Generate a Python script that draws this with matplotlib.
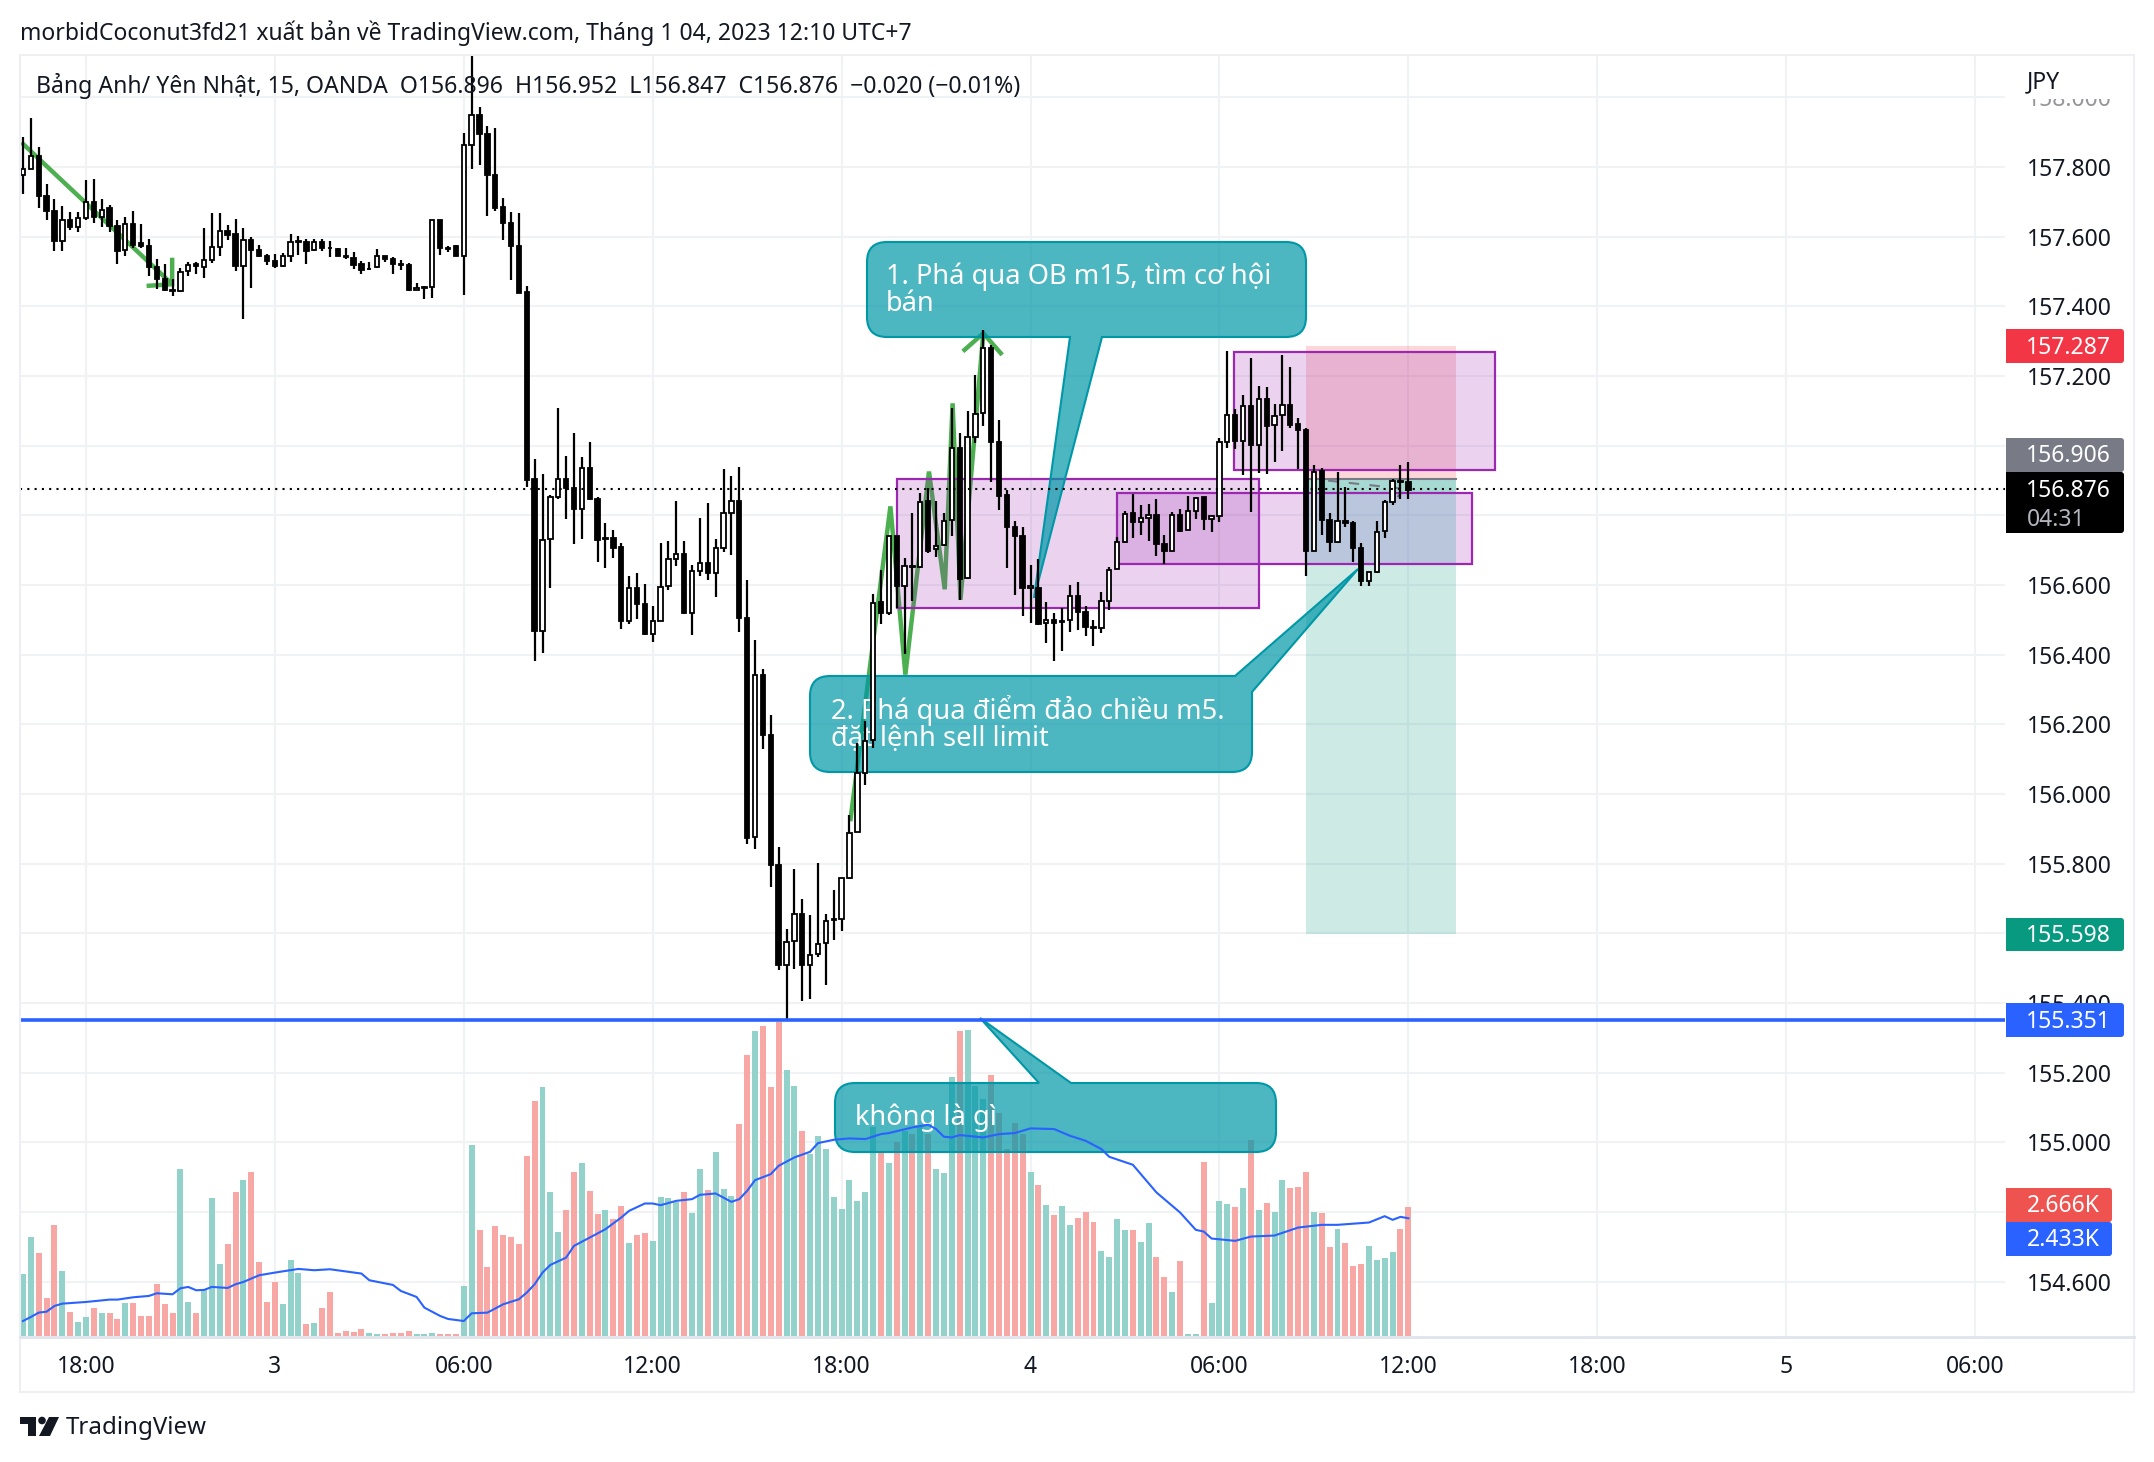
import numpy as np
import matplotlib
matplotlib.use('Agg')
import matplotlib.pyplot as plt
from matplotlib.patches import Rectangle, PathPatch, FancyBboxPatch, Polygon, Circle
from matplotlib.path import Path
from matplotlib.transforms import Affine2D

plt.rcParams['font.family'] = ['Noto Sans', 'DejaVu Sans']

# 15 minute bars, 16:00 Jan 2 to 12:00 Jan 4
high = [157.886,157.942,157.857,157.752,157.708,157.689,157.672,157.672,157.762,157.765,
        157.708,157.692,157.649,157.657,157.674,157.637,157.593,157.537,157.522,157.479,
        157.510,157.527,157.528,157.624,157.667,157.667,157.634,157.651,157.625,157.600,
        157.577,157.552,157.552,157.554,157.607,157.602,157.595,157.595,157.593,157.587,
        157.569,157.569,157.555,157.531,157.528,157.566,157.546,157.542,157.534,157.525,
        157.466,157.458,157.649,157.649,157.574,157.576,157.898,158.140,157.974,157.919,
        157.913,157.712,157.672,157.669,157.459,156.963,156.919,156.860,157.109,156.971,
        157.036,156.968,157.011,156.853,156.779,156.758,156.722,156.626,156.634,156.603,
        156.541,156.720,156.726,156.841,156.726,156.658,156.792,156.836,156.733,156.933,
        156.913,156.940,156.615,156.442,156.359,156.226,155.849,155.612,155.785,155.700,
        155.654,155.801,155.657,155.724,155.760,155.939,156.146,156.211,156.575,156.644,
        156.740,156.742,156.678,156.806,156.864,156.878,156.841,156.806,157.109,157.036,
        157.100,157.203,157.331,157.290,157.073,156.872,156.784,156.768,156.657,156.675,
        156.551,156.520,156.534,156.600,156.608,156.539,156.499,156.579,156.652,156.738,
        156.812,156.862,156.831,156.833,156.847,156.744,156.810,156.818,156.856,156.853,
        156.853,156.802,157.022,157.271,157.105,157.146,157.252,157.172,157.168,157.120,
        157.261,157.226,157.079,157.051,156.945,156.936,156.807,156.925,156.881,156.783,
        156.721,156.639,156.785,156.843,156.904,156.945,156.952]
body_hi = [157.795,157.833,157.833,157.718,157.675,157.649,157.649,157.655,157.701,157.701,
           157.678,157.682,157.630,157.637,157.637,157.583,157.574,157.514,157.479,157.448,
           157.499,157.519,157.521,157.533,157.571,157.616,157.616,157.607,157.590,157.591,
           157.563,157.546,157.531,157.546,157.584,157.587,157.586,157.586,157.586,157.569,
           157.566,157.546,157.540,157.522,157.509,157.544,157.544,157.536,157.521,157.520,
           157.452,157.455,157.649,157.649,157.569,157.575,157.865,157.951,157.951,157.896,
           157.778,157.687,157.640,157.574,157.442,156.905,156.729,156.854,156.905,156.905,
           156.879,156.937,156.937,156.846,156.736,156.736,156.709,156.592,156.592,156.545,
           156.497,156.594,156.676,156.689,156.689,156.640,156.662,156.663,156.706,156.808,
           156.842,156.842,156.505,156.343,156.343,156.170,155.796,155.576,155.656,155.657,
           155.539,155.570,155.636,155.640,155.759,155.889,156.060,156.153,156.550,156.552,
           156.740,156.742,156.654,156.655,156.838,156.841,156.711,156.783,156.993,156.993,
           157.025,157.091,157.280,157.280,157.010,156.858,156.768,156.740,156.596,156.593,
           156.500,156.500,156.496,156.569,156.570,156.522,156.481,156.553,156.644,156.725,
           156.805,156.806,156.794,156.800,156.801,156.717,156.800,156.801,156.814,156.851,
           156.853,156.797,157.012,157.087,157.088,157.113,157.113,157.134,157.134,157.086,
           157.116,157.117,157.062,157.046,156.925,156.928,156.787,156.784,156.784,156.778,
           156.706,156.639,156.753,156.840,156.898,156.898,156.896]
body_lo = [157.777,157.795,157.718,157.675,157.588,157.588,157.628,157.628,157.655,157.656,
           157.658,157.630,157.560,157.561,157.577,157.573,157.514,157.479,157.447,157.445,
           157.445,157.502,157.516,157.514,157.534,157.571,157.604,157.516,157.516,157.562,
           157.546,157.530,157.516,157.516,157.546,157.584,157.560,157.561,157.568,157.567,
           157.546,157.542,157.520,157.505,157.507,157.513,157.537,157.522,157.519,157.446,
           157.447,157.453,157.455,157.567,157.566,157.546,157.546,157.865,157.896,157.778,
           157.684,157.640,157.574,157.440,156.902,156.469,156.469,156.731,156.853,156.878,
           156.819,156.819,156.846,156.729,156.732,156.706,156.497,156.497,156.545,156.460,
           156.461,156.498,156.596,156.676,156.519,156.520,156.640,156.634,156.636,156.706,
           156.808,156.505,155.874,155.877,156.170,155.796,155.510,155.510,155.579,155.510,
           155.510,155.540,155.572,155.637,155.642,155.760,155.892,156.060,156.156,156.520,
           156.520,156.596,156.596,156.651,156.651,156.699,156.703,156.714,156.786,156.618,
           156.619,157.025,157.093,157.010,156.857,156.768,156.740,156.593,156.593,156.489,
           156.491,156.491,156.493,156.499,156.522,156.481,156.476,156.476,156.553,156.646,
           156.725,156.780,156.781,156.794,156.717,156.699,156.699,156.755,156.757,156.814,
           156.791,156.791,156.797,157.012,157.013,157.013,157.001,157.002,157.058,157.059,
           157.088,157.060,157.044,156.699,156.699,156.786,156.725,156.725,156.778,156.706,
           156.613,156.613,156.639,156.755,156.840,156.895,156.874]
low = [157.722,157.795,157.683,157.649,157.560,157.560,157.620,157.614,157.649,157.640,
       157.628,157.614,157.522,157.546,157.567,157.567,157.487,157.449,157.445,157.429,
       157.441,157.487,157.493,157.481,157.525,157.544,157.590,157.502,157.364,157.453,
       157.543,157.519,157.510,157.513,157.528,157.549,157.522,157.560,157.560,157.542,
       157.544,157.537,157.508,157.492,157.505,157.510,157.528,157.493,157.505,157.445,
       157.446,157.421,157.424,157.548,157.557,157.544,157.434,157.795,157.806,157.660,
       157.675,157.590,157.475,157.438,156.882,156.383,156.406,156.592,156.847,156.791,
       156.717,156.733,156.843,156.665,156.648,156.678,156.475,156.489,156.502,156.456,
       156.438,156.497,156.586,156.654,156.516,156.456,156.626,156.616,156.566,156.696,
       156.685,156.465,155.858,155.843,156.128,155.734,155.496,155.355,155.499,155.407,
       155.411,155.531,155.451,155.581,155.606,155.757,155.891,156.025,156.131,156.489,
       156.513,156.534,156.401,156.555,156.648,156.692,156.681,156.713,156.742,156.557,
       156.618,157.008,157.056,156.895,156.816,156.648,156.572,156.510,156.491,156.486,
       156.435,156.381,156.412,156.464,156.472,156.453,156.424,156.462,156.529,156.646,
       156.722,156.734,156.744,156.728,156.684,156.661,156.699,156.752,156.757,156.790,
       156.757,156.753,156.780,156.994,156.991,156.915,156.811,156.921,156.920,156.952,
       156.984,157.052,156.933,156.627,156.697,156.744,156.694,156.721,156.768,156.667,
       156.596,156.598,156.636,156.734,156.829,156.847,156.847]
rising = ('UUDDDUDUUDUDDUDDDDDDUUDUUUDDUDDDDUUUDUDDDDDDUUDDDDUUUDDDUUDDDDDDD'
          'DUUUDDUDDUDDUDDUUUUDUUDUUUDDUDDDUUDUUUUUUUUUDUDUDUDUUUDUUUDDDDDUDUDUUDDDUUUUDUUDDUDUUD'
          'UUUDUDUDUUDDDUDDUDDDUUUUDD')
volume = [1.283,2.048,1.710,0.793,2.297,1.345,0.497,0.290,0.393,0.579,
          0.476,0.476,0.352,0.683,0.683,0.414,0.414,1.076,0.662,0.476,
          3.455,0.703,0.476,0.972,2.855,1.490,1.903,2.979,3.228,3.393,
          1.531,0.703,1.117,0.662,1.572,1.303,0.248,0.269,0.579,0.910,
          0.062,0.103,0.083,0.145,0.062,0.041,0.041,0.062,0.062,0.103,
          0.041,0.041,0.062,0.041,0.041,0.041,1.034,3.952,2.193,1.428,
          2.276,2.090,2.048,1.903,3.724,4.862,5.152,2.979,2.152,2.607,
          3.393,3.579,3.000,2.524,2.607,2.421,2.690,1.924,2.090,2.131,
          1.966,2.876,2.855,2.772,2.979,2.545,3.455,3.021,3.807,3.041,
          2.897,4.386,5.814,6.310,6.414,5.152,6.483,5.503,5.172,4.241,
          3.766,4.138,3.869,2.876,2.628,3.228,2.793,2.979,4.324,3.828,
          3.579,4.014,4.241,4.179,4.310,4.179,3.455,3.372,5.359,6.310,
          6.331,5.172,4.903,5.400,4.614,3.862,4.407,4.179,3.393,3.124,
          2.710,2.503,2.690,2.297,2.441,2.566,2.359,1.759,1.634,2.421,
          2.193,2.193,1.945,2.338,1.634,1.221,0.910,1.552,0.041,0.041,
          3.600,0.683,2.793,2.731,2.669,3.062,4.055,2.607,2.752,2.566,
          3.228,3.062,3.083,3.393,2.566,2.545,1.841,2.214,1.924,1.448,
          1.490,1.862,1.572,1.614,1.738,2.214,2.666]
ma_bar = [0,1,2,3,4,5,8,11,12,14,16,17,19,20,21,22,23,24,26,27,28,30,32,35,37,39,43,44,47,48,
          50,51,53,54,56,57,59,61,63,64,65,66,67,69,70,72,74,76,77,79,80,81,83,85,86,88,90,91,
          92,93,95,96,98,100,101,103,105,107,109,110,113,115,116,117,118,119,122,124,126,128,
          131,133,135,137,138,141,144,147,149,150,151,154,156,159,162,165,167,171,173,174,175,176]
ma_val = [.310,.393,.483,.503,.621,.669,.703,.752,.752,.800,.828,.883,.862,.986,1.014,.945,.952,
          1.014,.993,1.069,1.117,1.255,1.310,1.386,1.359,1.379,1.290,1.152,1.055,.931,.807,.586,
          .414,.352,.310,.469,.483,.655,.759,.897,1.069,1.310,1.469,1.620,1.862,2.034,2.207,
          2.448,2.586,2.738,2.738,2.703,2.793,2.828,2.917,2.945,2.772,2.828,3.000,3.220,3.345,
          3.517,3.690,3.807,3.986,4.055,4.083,4.069,4.172,4.193,4.310,4.366,4.276,4.117,4.103,
          4.152,4.103,4.172,4.193,4.290,4.276,4.138,4.034,3.862,3.703,3.538,2.966,2.552,2.193,
          2.159,2.014,1.966,2.055,2.076,2.241,2.297,2.297,2.345,2.476,2.400,2.462,2.433]

price_ticks = [154.6,154.8,155.0,155.2,155.4,155.6,155.8,156.0,156.2,156.4,156.6,156.8,157.0,157.2,157.4,157.6,157.8,158.0]
time_bars = [8,32,56,80,104,128,152,176,200,224,248]
time_labels = ['18:00','3','06:00','12:00','18:00','4','06:00','12:00','18:00','5','06:00']

last_close = 156.876
h_line = 155.351
entry, stop, target = 156.906, 157.287, 155.598
pos_bars = [163, 182]
ob_boxes = [(111.05,157.05,156.535,156.906), (139,184.1,156.661,156.863), (153.9,187,156.931,157.268)]
arrow1_bar = [-0.2,18.95]
arrow1_val = [157.871,157.464]
arrow1_head_bar = [15.7,18.95,18.95]
arrow1_head_val = [157.459,157.464,157.540]
zig_bar = [105.1,110.2,112.1,115.1,117.1,118.1,119.1,122.0]
zig_val = [155.922,156.826,156.343,156.926,156.588,157.122,156.558,157.323]
zig_head_bar = [119.4,122.0,124.4]
zig_head_val = [157.271,157.323,157.261]
trade_bar = [165.8,175.6,174.6]
trade_val = [156.900,156.876,156.853]

W, H = 2154, 1462
L, R, T, B = 20, 2005, 55, 1336
fig = plt.figure(figsize=(W/100, H/100), dpi=100, facecolor='white')
pos = [L/W, 1-B/H, (R-L)/W, (B-T)/H]
ax = fig.add_axes(pos)
vax = fig.add_axes(pos)
vax.set_axis_off()
ax.set_zorder(2)
vax.set_zorder(1)
ax.set_xlim(-0.38, 251.8)
ax.set_ylim(154.444, 158.122)
vax.set_xlim(-0.38, 251.8)
vax.set_ylim(0, 26.47)
ax.set_autoscale_on(False)

ax.set_yticks(price_ticks)
ax.set_yticklabels(['%.3f' % p for p in price_ticks])
ax.yaxis.tick_right()
ax.set_xticks(time_bars)
ax.set_xticklabels(time_labels)
ax.tick_params(axis='y', length=0, pad=15.5, labelsize=16.5, labelcolor='#131722')
ax.tick_params(axis='x', length=0, pad=14, labelsize=16.5, labelcolor='#131722')
for lab in ax.get_xticklabels():
    if lab.get_text() in ('3', '4', '5'):
        lab.set_fontweight('bold')
ax.grid(color='#f1f2f4', linewidth=1.5)
ax.set_axisbelow(True)
for s in ax.spines.values():
    s.set_visible(False)

bars = np.arange(len(high))
up = np.array([c == 'U' for c in rising])

# volume pane
ax.bar(bars, volume, width=0.76, color=['#92d2ca' if u else '#f7a8a5' for u in up],
       transform=vax.transData, zorder=1)

# position tool
span = pos_bars[1]-pos_bars[0]
teal = (8/255, 153/255, 129/255, .2)
ax.add_patch(Rectangle((pos_bars[0], entry), span, stop-entry, fc=(242/255,54/255,69/255,.2), ec='none', zorder=2))
ax.add_patch(Rectangle((pos_bars[0], target), span, entry-target, fc=teal, ec='none', zorder=2))
ax.add_patch(Rectangle((pos_bars[0], ob_boxes[1][3]), span, entry-ob_boxes[1][3], fc=teal, ec='none', zorder=2))
ax.add_patch(Rectangle((pos_bars[0], ob_boxes[1][2]), span, ob_boxes[1][3]-ob_boxes[1][2], fc=(150/255,1,240/255,.2), ec='none', zorder=2))
ax.plot(pos_bars, [entry, entry], color='#787b86', lw=1.5, zorder=2.1)
ax.plot(trade_bar, trade_val, color='#787b86', lw=1.5, ls=(0, (5, 5)), zorder=2.1)

# green arrows
green = '#4caf50'
for bx, by in [(arrow1_bar, arrow1_val), (arrow1_head_bar, arrow1_head_val), (zig_bar, zig_val), (zig_head_bar, zig_head_val)]:
    ax.plot(bx, by, color=green, lw=3.2, solid_joinstyle='miter', solid_capstyle='butt', zorder=2.5)

# order blocks
for x0, x1, y0, y1 in ob_boxes:
    ax.add_patch(Rectangle((x0, y0), x1-x0, y1-y0, fc=(156/255,39/255,176/255,.2), ec='#9c27b0', lw=1.6, zorder=3))

to_px = Affine2D().scale(1, -1).translate(0, H)

def rounded_poly(points):
    verts, codes = [], []
    n = len(points)
    for k, (x, y, r) in enumerate(points):
        if r == 0:
            verts.append((x, y))
            codes.append(Path.LINETO)
            continue
        px0, py0, _ = points[k-1]
        px1, py1, _ = points[(k+1) % n]
        a = np.array([px0-x, py0-y], float)
        b = np.array([px1-x, py1-y], float)
        a = a/np.hypot(*a)*r
        b = b/np.hypot(*b)*r
        verts += [(x+a[0], y+a[1]), (x, y), (x+b[0], y+b[1])]
        codes += [Path.LINETO, Path.CURVE3, Path.CURVE3]
    codes[0] = Path.MOVETO
    verts.append(verts[0])
    codes.append(Path.CLOSEPOLY)
    return Path(verts, codes)

def callout(points):
    ax.add_patch(PathPatch(rounded_poly(points), fc=(0, 151/255, 167/255, .7), ec='#0097a7', lw=1.5,
                           transform=to_px, clip_on=False, zorder=3.5))

r = 20
callout([(867,242,r),(1306,242,r),(1306,337,r),(1102,337,0),(1034,598,0),(1070,337,0),(867,337,r)])
callout([(810,676,r),(1235,676,0),(1358,569,0),(1252,692,0),(1252,772,r),(810,772,r)])
callout([(835,1083,r),(1039,1083,0),(980,1018,0),(1071,1083,0),(1276,1083,r),(1276,1152,r),(835,1152,r)])

note_size = 19.6
ax.text(886, 277, '1. Phá qua OB m15, tìm cơ hội', color='white', fontsize=note_size, va='center', transform=to_px, zorder=3.6)
ax.text(886, 304, 'bán', color='white', fontsize=note_size, va='center', transform=to_px, zorder=3.6)
ax.text(831, 711, '2. Phá qua điểm đảo chiều m5.', color='white', fontsize=note_size, va='center', transform=to_px, zorder=3.6)
ax.text(831, 739, 'đặt lệnh sell limit', color='white', fontsize=note_size, va='center', transform=to_px, zorder=3.6)
ax.text(855, 1118, 'không là gì', color='white', fontsize=note_size, va='center', transform=to_px, zorder=3.6)

# volume average
ax.plot(ma_bar, ma_val, color='#2962ff', lw=1.5, transform=vax.transData, zorder=4)

# candles
ax.vlines(bars, low, high, color='black', lw=1.6, zorder=5)
ax.bar(bars, np.array(body_hi)-np.array(body_lo), bottom=body_lo, width=0.55,
       color=['white' if u else 'black' for u in up], edgecolor='black', linewidth=1.3, zorder=5.2)

ax.axhline(last_close, color='black', lw=1.5, ls=(0, (1, 2.5)), zorder=6)
ax.axhline(h_line, color='#2962ff', lw=2.6, zorder=6.5)

# overlay in pixels for frame, labels and price tags
ov = fig.add_axes([0, 0, 1, 1], zorder=10)
ov.set_xlim(0, W)
ov.set_ylim(H, 0)
ov.axis('off')
ov.add_patch(Rectangle((L, T), 2134-L, 1392-T, fc='none', ec='#eeeef4', lw=1.5))
ov.plot([L, 2134], [1337, 1337], color='#e0e3eb', lw=2)
# 158.000 sits half under the currency label and fades out
ov.add_patch(Rectangle((2012, 58), 118, 41, fc='white', ec='none'))
ov.add_patch(Rectangle((2012, 99), 118, 10, fc=(1, 1, 1, .55), ec='none'))

def tag(y0, y1, color, text, width=118, cx=2068):
    ov.add_patch(FancyBboxPatch((2012, y0+3), width-9, y1-y0-6, boxstyle='round,pad=3', fc=color, ec='none', zorder=3))
    ov.add_patch(Rectangle((2006, y0), 20, y1-y0, fc=color, ec='none', zorder=3))
    ov.text(cx, (y0+y1)/2+1.5, text, color='white', fontsize=16.5, ha='center', va='center', zorder=4)

tag(329, 363, '#f23645', '157.287')
tag(438, 472, '#787b86', '156.906')
tag(472, 533, 'black', '')
ov.text(2068, 491, '156.876', color='white', fontsize=16.5, ha='center', va='center', zorder=4)
ov.text(2027, 520, '04:31', color='#b2b5be', fontsize=16.5, ha='left', va='center', zorder=4)
tag(918, 951, '#089981', '155.598')
tag(1003, 1037, '#2962ff', '155.351')
tag(1188, 1222, '#ef5350', '2.666K', width=106, cx=2063)
tag(1222, 1256, '#2962ff', '2.433K', width=106, cx=2063)

ov.text(2027, 82, 'JPY', color='#131722', fontsize=16.5, va='center')
ov.text(20, 33, 'morbidCoconut3fd21 xuất bản về TradingView.com, Tháng 1 04, 2023 12:10 UTC+7',
        color='#131722', fontsize=16.5, va='center')
ov.text(36, 86, 'Bảng Anh/ Yên Nhật, 15, OANDA  O156.896  H156.952  L156.847  C156.876  −0.020 (−0.01%)',
        color='#131722', fontsize=16.6, va='center')
ov.text(66, 1428, 'TradingView', color='#131722', fontsize=17.3, va='center')

# logo
logo = '#131722'
ov.add_patch(Polygon([(20,1417),(36,1417),(36,1436),(28,1436),(28,1424),(20,1424)], fc=logo, ec='none'))
ov.add_patch(Circle((42, 1420.5), 3.8, fc=logo, ec='none'))
ov.add_patch(Polygon([(59,1417),(49,1417),(39,1436),(50,1436)], fc=logo, ec='none'))

fig.savefig('out.png', dpi=100, facecolor='white')
